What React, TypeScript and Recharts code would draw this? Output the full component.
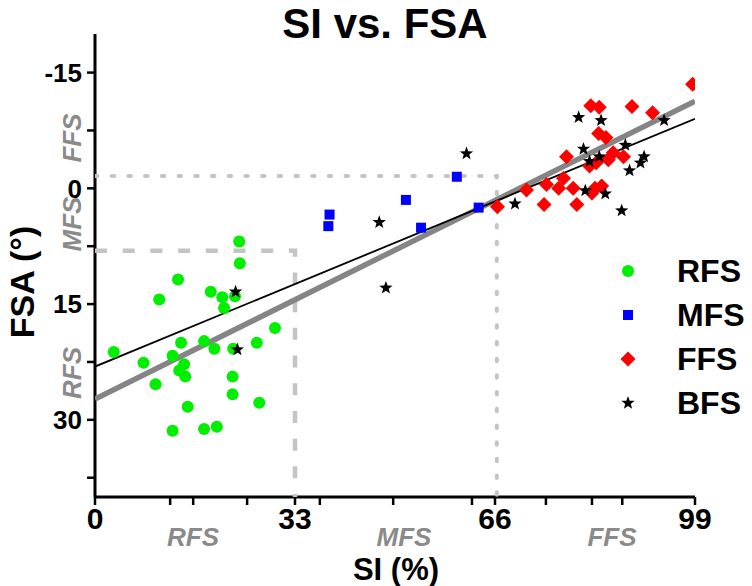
import { Legend, Scatter, ScatterChart, XAxis, YAxis } from "recharts";

type Pair = [number, number];

// [SI (%), FSA (deg)]
const rfsPoints: Pair[] = [
  [23.8, 6.9], [23.9, 9.7], [13.7, 11.8], [10.6, 14.4], [19.1, 13.4],
  [21.0, 14.1], [21.3, 15.5], [23.1, 14.0], [29.7, 18.1], [26.7, 20.0],
  [14.2, 20.0], [18.0, 19.8], [19.7, 20.8], [22.8, 20.8], [3.1, 21.2],
  [12.8, 21.7], [8.0, 22.6], [14.7, 22.8], [13.9, 23.6], [14.9, 24.4],
  [10.0, 25.4], [22.7, 24.4], [22.7, 26.7], [27.1, 27.8], [15.3, 28.3],
  [12.8, 31.4], [18.0, 31.2], [20.1, 30.9],
];

const mfsPoints: Pair[] = [
  [38.7, 3.4], [38.5, 4.9], [51.3, 1.5], [53.8, 5.1], [59.7, -1.5], [63.3, 2.5],
];

const ffsPoints: Pair[] = [
  [98.6, -13.5], [81.8, -10.7], [83.2, -10.5], [88.6, -10.6], [92.0, -9.8],
  [83.1, -7.1], [84.3, -6.6], [77.8, -4.1], [85.5, -4.6], [87.2, -4.1],
  [84.7, -3.7], [81.6, -2.9], [82.7, -3.3], [77.3, -1.3], [76.5, 0.0],
  [74.5, -0.5], [78.9, 0.0], [82.5, 0.0], [83.6, -0.3], [82.0, 0.6],
  [71.2, 0.2], [74.1, 2.1], [79.5, 2.1], [66.4, 2.4],
];

const bfsPoints: Pair[] = [
  [23.2, 13.4], [23.5, 20.9], [61.3, -4.5], [46.9, 4.4], [48.0, 12.9],
  [69.3, 2.0], [79.8, -9.2], [83.5, -8.8], [93.9, -8.8], [87.5, -5.6],
  [80.6, -5.1], [81.6, -3.5], [83.2, -4.1], [90.6, -4.1], [90.0, -3.3],
  [88.2, -2.3], [80.9, 0.3], [84.2, 0.7], [86.9, 2.9],
];

// regression lines (end points)
const thickFit: Pair[] = [[0, 27.3], [99, -11.3]];
const thinFit: Pair[] = [[0, 23.1], [99, -9.0]];

// zone borders
const rfsBorder: Pair[] = [[0, 8.1], [33, 8.1], [33, 40]];
const mfsBorder: Pair[] = [[0, -1.6], [66.3, -1.6], [66.3, 40]];

const xTicks = [0, 12.4, 16.2, 25.1, 33, 37.1, 49.2, 62.2, 66, 74.4, 82, 87, 99];
const xLabels = [0, 33, 66, 99];
const yTicks = [-15, -7.5, 0, 7.5, 15, 22.5, 30, 37.5];
const yLabels = [-15, 0, 15, 30];
const legendNames = ["RFS", "MFS", "FFS", "BFS"];

const FONT = '"Liberation Sans", Arial, Helvetica, sans-serif';
const GREEN = "#00ee00";
const BLUE = "#0000ff";
const RED = "#ff0000";
const ZONE_GREY = "#c4c4c4";
const LABEL_GREY = "#8a8a8a";

const toXY = (pts: Pair[]) => pts.map(([si, fsa]) => ({ si, fsa }));

function starPath(cx: number, cy: number, R: number, r: number) {
  let d = "";
  for (let i = 0; i < 10; i++) {
    const rad = i % 2 === 0 ? R : r;
    const a = (Math.PI / 5) * i - Math.PI / 2;
    d += `${i === 0 ? "M" : "L"}${cx + rad * Math.cos(a)},${cy + rad * Math.sin(a)}`;
  }
  return d + "Z";
}

function Marker({ kind, cx, cy }: { kind: string; cx: number; cy: number }) {
  if (kind === "RFS") return <circle cx={cx} cy={cy} r={6} fill={GREEN} />;
  if (kind === "MFS")
    return <rect x={cx - 5} y={cy - 5} width={10} height={10} fill={BLUE} />;
  if (kind === "FFS")
    return (
      <polygon
        points={`${cx},${cy - 7.5} ${cx + 7.5},${cy} ${cx},${cy + 7.5} ${cx - 7.5},${cy}`}
        fill={RED}
      />
    );
  return <path d={starPath(cx, cy, 7, 2.9)} fill="#000" />;
}

const shapeFor = (kind: string) => (p: any) => <Marker kind={kind} cx={p.cx} cy={p.cy} />;
const noShape = () => <g />;

function LegendBox() {
  return (
    <div style={{ fontFamily: FONT }}>
      {legendNames.map((name) => (
        <div key={name} style={{ display: "flex", alignItems: "center", height: 44 }}>
          <svg width={20} height={20}>
            <Marker kind={name} cx={10} cy={10} />
          </svg>
          <span style={{ marginLeft: 39, fontSize: 32, fontWeight: 700, lineHeight: 1 }}>
            {name}
          </span>
        </div>
      ))}
    </div>
  );
}

function Text({
  x,
  y,
  size,
  children,
  rotate = false,
  grey = false,
}: {
  x: number;
  y: number;
  size: number;
  children: string;
  rotate?: boolean;
  grey?: boolean;
}) {
  return (
    <div
      style={{
        position: "absolute",
        left: x,
        top: y,
        transform: `translate(-50%, -50%)${rotate ? " rotate(-90deg)" : ""}`,
        fontFamily: FONT,
        fontSize: size,
        fontWeight: 700,
        fontStyle: grey ? "italic" : "normal",
        color: grey ? LABEL_GREY : "#000",
        lineHeight: 1,
        whiteSpace: "nowrap",
      }}
    >
      {children}
    </div>
  );
}

export default function App() {
  const tickStyle = { fill: "#000", fontWeight: 700, fontFamily: FONT };
  return (
    <div
      style={{
        position: "absolute",
        left: 0,
        top: 0,
        width: 752,
        height: 586,
        background: "#fff",
      }}
    >
      <ScatterChart width={752} height={586} margin={{ top: 34, right: 57, bottom: 59, left: 0 }}>
        <XAxis
          type="number"
          dataKey="si"
          domain={[0, 99]}
          allowDataOverflow
          ticks={xTicks}
          interval={0}
          tickFormatter={(v) => (xLabels.includes(v) ? String(v) : "")}
          tick={{ ...tickStyle, fontSize: 30 }}
          tickSize={8}
          tickMargin={3}
          height={30}
          axisLine={{ stroke: "#000", strokeWidth: 3 }}
          tickLine={{ stroke: "#000", strokeWidth: 2.5 }}
        />
        <YAxis
          type="number"
          dataKey="fsa"
          domain={[-20, 40]}
          reversed
          allowDataOverflow
          ticks={yTicks}
          interval={0}
          tickFormatter={(v) => (yLabels.includes(v) ? String(v) : "")}
          tick={{ ...tickStyle, fontSize: 26 }}
          tickSize={8}
          tickMargin={5}
          width={95}
          axisLine={{ stroke: "#000", strokeWidth: 3 }}
          tickLine={{ stroke: "#000", strokeWidth: 2.5 }}
        />
        <Legend
          layout="horizontal"
          verticalAlign="middle"
          align="center"
          content={() => <LegendBox />}
          wrapperStyle={{ left: 618, top: 249, width: 134, height: 176 }}
        />

        <Scatter
          data={toXY(rfsBorder)}
          shape={noShape}
          line={{ stroke: ZONE_GREY, strokeWidth: 4.5, strokeDasharray: "12 15.7" }}
          legendType="none"
          isAnimationActive={false}
        />
        <Scatter
          data={toXY(mfsBorder)}
          shape={noShape}
          line={{
            stroke: ZONE_GREY,
            strokeWidth: 4,
            strokeDasharray: "2.5 14.2",
            strokeLinecap: "round",
          }}
          legendType="none"
          isAnimationActive={false}
        />
        <Scatter
          data={toXY(thickFit)}
          shape={noShape}
          line={{ stroke: "#858585", strokeWidth: 5.5 }}
          legendType="none"
          isAnimationActive={false}
        />
        <Scatter
          data={toXY(thinFit)}
          shape={noShape}
          line={{ stroke: "#000", strokeWidth: 1.8 }}
          legendType="none"
          isAnimationActive={false}
        />

        <Scatter name="RFS" data={toXY(rfsPoints)} shape={shapeFor("RFS")} isAnimationActive={false} />
        <Scatter name="MFS" data={toXY(mfsPoints)} shape={shapeFor("MFS")} isAnimationActive={false} />
        <Scatter name="FFS" data={toXY(ffsPoints)} shape={shapeFor("FFS")} isAnimationActive={false} />
        <Scatter name="BFS" data={toXY(bfsPoints)} shape={shapeFor("BFS")} isAnimationActive={false} />
      </ScatterChart>

      <Text x={385} y={24} size={42}>SI vs. FSA</Text>
      <Text x={396} y={569} size={31}>SI (%)</Text>
      <Text x={22} y={282} size={34} rotate>FSA (°)</Text>

      <Text x={193} y={537} size={26} grey>RFS</Text>
      <Text x={404} y={537} size={26} grey>MFS</Text>
      <Text x={612} y={537} size={26} grey>FFS</Text>

      <Text x={72} y={138} size={26} rotate grey>FFS</Text>
      <Text x={72} y={224} size={26} rotate grey>MFS</Text>
      <Text x={72} y={373} size={26} rotate grey>RFS</Text>
    </div>
  );
}
